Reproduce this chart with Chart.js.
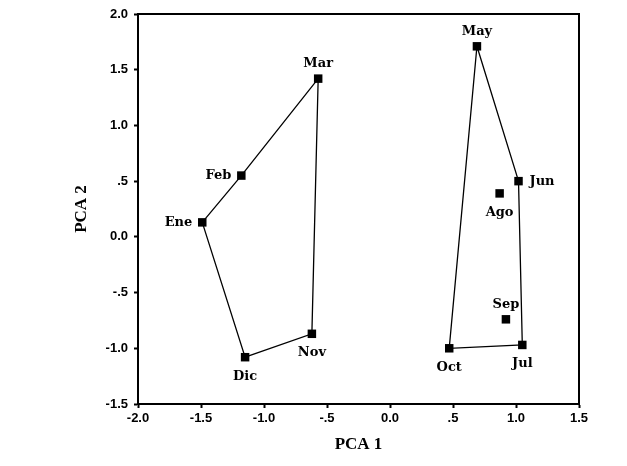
<!DOCTYPE html>
<html>
<head>
<meta charset="utf-8">
<script src="https://cdn.jsdelivr.net/npm/chart.js@4"></script>
<style>
  body { margin: 0; background: #fff; }
</style>
</head>
<body>
<canvas id="myChart" width="627" height="466"></canvas>
<script>
// data
const months = ['Ene', 'Feb', 'Mar', 'May', 'Jun', 'Jul', 'Ago', 'Sep', 'Oct', 'Nov', 'Dic'];
const pca1 = [-1.49, -1.18, -0.57, 0.69, 1.02, 1.05, 0.87, 0.92, 0.47, -0.62, -1.15];
const pca2 = [0.13, 0.55, 1.42, 1.71, 0.50, -0.97, 0.39, -0.74, -1.00, -0.87, -1.08];
// polygon outlines (closed)
const hullWinter = ['Ene', 'Feb', 'Mar', 'Nov', 'Dic', 'Ene'];
const hullSummer = ['May', 'Jun', 'Jul', 'Oct', 'May'];
// ticks
const xTicks = [-2.0, -1.5, -1.0, -0.5, 0.0, 0.5, 1.0, 1.5];
const xTickLabels = ['-2.0', '-1.5', '-1.0', '-.5', '0.0', '.5', '1.0', '1.5'];
const yTicks = [-1.5, -1.0, -0.5, 0.0, 0.5, 1.0, 1.5, 2.0];
const yTickLabels = ['-1.5', '-1.0', '-.5', '0.0', '.5', '1.0', '1.5', '2.0'];

// where each month name sits relative to its marker
const labelSide = {
	Ene: 'left', Feb: 'left', Mar: 'above', May: 'above', Jun: 'right',
	Jul: 'below', Ago: 'below', Sep: 'above', Oct: 'below', Nov: 'below', Dic: 'below'
};

function pointsOf(names) {
	return names.map(n => {
		const i = months.indexOf(n);
		return { x: pca1[i], y: pca2[i] };
	});
}

const frame = {
	id: 'frame',
	afterDraw(chart) {
		const { ctx, chartArea: a } = chart;
		ctx.save();
		ctx.strokeStyle = '#000';
		ctx.lineWidth = 2;
		ctx.beginPath();
		ctx.moveTo(a.left, a.top);
		ctx.lineTo(a.right, a.top);
		ctx.lineTo(a.right, a.bottom);
		ctx.stroke();
		ctx.restore();
	}
};

const monthLabels = {
	id: 'monthLabels',
	afterDatasetsDraw(chart) {
		const { ctx, scales: { x, y } } = chart;
		ctx.save();
		ctx.fillStyle = '#000';
		ctx.font = 'bold 13px "DejaVu Serif"';
		months.forEach((m, i) => {
			const px = x.getPixelForValue(pca1[i]);
			const py = y.getPixelForValue(pca2[i]);
			const side = labelSide[m];
			if (side === 'left') {
				ctx.textAlign = 'right'; ctx.textBaseline = 'middle';
				ctx.fillText(m, px - 10, py);
			} else if (side === 'right') {
				ctx.textAlign = 'left'; ctx.textBaseline = 'middle';
				ctx.fillText(m, px + 11, py);
			} else if (side === 'above') {
				ctx.textAlign = 'center'; ctx.textBaseline = 'middle';
				ctx.fillText(m, px, py - 15);
			} else {
				ctx.textAlign = 'center'; ctx.textBaseline = 'middle';
				ctx.fillText(m, px, py + 19);
			}
		});
		ctx.restore();
	}
};

const tickFont = { family: '"Liberation Sans", Arial', size: 13, weight: 'bold' };
const titleFont = { family: '"Liberation Serif", "Times New Roman"', size: 17, weight: 'bold' };

var ctx = document.getElementById('myChart').getContext('2d');
var myChart = new Chart(ctx, {
	type: 'scatter',
	data: {
		datasets: [
			{
				data: pointsOf(hullWinter),
				showLine: true,
				borderColor: '#000',
				borderWidth: 1.3,
				pointRadius: 0,
				tension: 0,
				fill: false,
			},
			{
				data: pointsOf(hullSummer),
				showLine: true,
				borderColor: '#000',
				borderWidth: 1.3,
				pointRadius: 0,
				tension: 0,
				fill: false,
			},
			{
				data: pointsOf(months),
				pointStyle: 'rect',
				pointRadius: 6,
				backgroundColor: '#000',
				borderColor: '#000',
				borderWidth: 0,
			},
		],
	},
	options: {
		responsive: false,
		animation: false,
		layout: { padding: { top: 14, right: 48, left: 0, bottom: 0 } },
		plugins: {
			legend: { display: false },
			tooltip: { enabled: false },
		},
		scales: {
			x: {
				type: 'linear',
				min: -2,
				max: 1.5,
				afterFit: s => { s.height = 62; },
				afterBuildTicks: s => { s.ticks = xTicks.map(v => ({ value: v })); },
				ticks: {
					color: '#000',
					font: tickFont,
					padding: 3,
					maxRotation: 0,
					callback: (v, i) => xTickLabels[i],
				},
				grid: { drawOnChartArea: false, drawTicks: true, tickLength: 4, tickWidth: 2, color: '#000' },
				border: { display: true, width: 2, color: '#000' },
				title: { display: true, text: 'PCA 1', color: '#000', font: titleFont, padding: { top: 0, bottom: 11 } },
			},
			y: {
				type: 'linear',
				min: -1.5,
				max: 2,
				afterFit: s => { s.width = 138; },
				afterBuildTicks: s => { s.ticks = yTicks.map(v => ({ value: v })); },
				ticks: {
					color: '#000',
					font: tickFont,
					padding: 6,
					callback: (v, i) => yTickLabels[i],
				},
				grid: { drawOnChartArea: false, drawTicks: true, tickLength: 4, tickWidth: 2, color: '#000' },
				border: { display: true, width: 2, color: '#000' },
				title: { display: true, text: 'PCA 2', color: '#000', font: titleFont, padding: { top: 71, bottom: 0 } },
			},
		},
	},
	plugins: [frame, monthLabels],
});
</script>
</body>
</html>
